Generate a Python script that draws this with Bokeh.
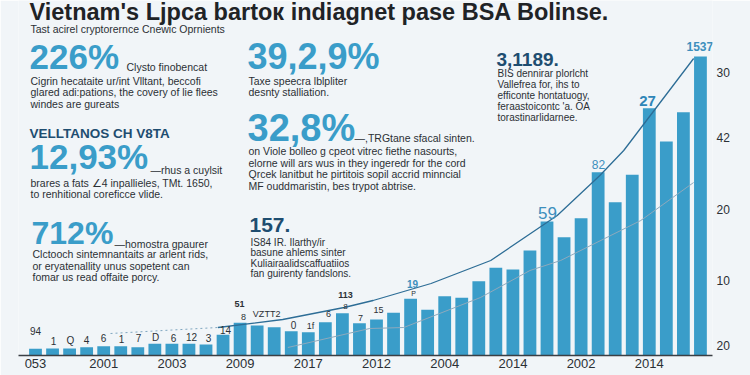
from bokeh.plotting import figure
from bokeh.models import Label, FixedTicker, LinearAxis, Range1d
from bokeh.embed import file_html
from bokeh.resources import INLINE

# ---------------- data ----------------
year_labels = ["053", "2001", "2003", "2009", "2017", "2012", "2004", "2014", "2002", "2014"]
year_ticks = [0, 4, 8, 12, 16, 20, 24, 28, 32, 36]
bar_values = [6.7, 7, 7, 8.3, 9.3, 9.3, 8.3, 11.7, 11.7, 11.7,
              11, 20.7, 32.7, 30, 28.3, 24.3, 23.3, 33.3, 42.3, 32.3,
              36, 42.7, 56.7, 45.7, 59.3, 57.7, 74.3, 87.7, 86, 105,
              134, 118.3, 137.3, 183.3, 153.3, 180.7, 247.3, 214, 243.3, 299]
right_ticks = [283, 218, 146, 75, 10]
right_labels = ["30", "42", "20", "10", "20"]
trend_dash_x = [4.4, 7.5, 10.7]
trend_dash_y = [22, 25, 28]
trend_x = [10.7, 14.5, 18.1, 19.8, 23.2, 26.7, 30.6, 33.1, 34.5, 38.6]
trend_y = [28, 36, 48, 55, 72, 95, 140, 180, 205, 297]
trend2_x = [14.8, 19.6, 21.6, 26.1, 29.0, 30.8, 35.5, 38.6]
trend2_y = [8, 27, 28, 58, 85, 95, 135, 173]

title_text = "Vietnam's Ljpca bartoк indiagnet pase BSA Bolinse."
subtitle_text = "Tast acirel cryptorernce Cnewic Oprnients"

BLUE = "#3a9dc9"
NAVY = "#1e4d70"
DARK = "#2b3035"
BG = "#f1f5f8"

# ---------------- figure ----------------
L, R, B = 18, 38, 20
W, H = 750, 375
p = figure(width=W, height=H, output_backend="svg", toolbar_location=None,
           x_range=Range1d(-(35 - L) / 17.05, (W - R - 35) / 17.05),
           y_range=Range1d(0, H - B),
           min_border_left=L, min_border_right=R, min_border_top=0, min_border_bottom=B,
           background_fill_color=BG, border_fill_color=BG)
p.outline_line_color = None
p.grid.visible = False
p.yaxis.visible = False

def X(px):
    return (px - 35) / 17.05

def Y(py):
    return (H - B) - py

p.vbar(x=list(range(len(bar_values))), top=bar_values, width=0.75, bottom=0,
       fill_color=BLUE, line_color=None)

p.line(trend_dash_x, trend_dash_y, line_color="#7fa6c0", line_width=1, line_dash="2 3")
p.line(trend_x, trend_y, line_color="#2d6d96", line_width=1.3)
p.line(trend2_x, trend2_y, line_color="#8ea9bc", line_width=1)

xa = p.xaxis[0]
xa.ticker = FixedTicker(ticks=year_ticks)
xa.major_label_overrides = {t: s for t, s in zip(year_ticks, year_labels)}
xa.major_tick_out = 0
xa.major_tick_in = 0
xa.minor_tick_out = 0
xa.minor_tick_in = 0
xa.axis_line_color = "#3a3f44"
xa.axis_line_width = 1.5
xa.major_label_standoff = 3
xa.major_label_text_font = "Liberation Sans"
xa.major_label_text_font_size = "13px"
xa.major_label_text_color = DARK

ra = LinearAxis(ticker=FixedTicker(ticks=right_ticks))
ra.major_label_overrides = {t: s for t, s in zip(right_ticks, right_labels)}
ra.axis_line_color = None
ra.major_tick_out = 0
ra.major_tick_in = 0
ra.minor_tick_out = 0
ra.minor_tick_in = 0
ra.major_label_standoff = 4
ra.major_label_text_font = "Liberation Sans"
ra.major_label_text_font_size = "12px"
ra.major_label_text_color = DARK
p.add_layout(ra, "right")

def lab(txt, x, y, size, color=DARK, bold=False, align="left"):
    p.add_layout(Label(x=X(x), y=Y(y), text=txt, text_font="Liberation Sans",
                       text_font_size=f"{size}px", text_color=color,
                       text_font_style="bold" if bold else "normal",
                       text_baseline="middle", text_align=align))

# title & subtitle
lab(title_text, 29, 11, 23.5, color="#1f2326", bold=True)
lab(subtitle_text, 30, 28, 10.5, color=DARK)

# stat blocks
lab("226%", 29, 56, 35, BLUE, True)
lab("Clysto finobencat", 126, 66, 10.5)
para1 = ["Cigrin hecataite ur/int Vlltant, beccofi",
         "glared adi:pations, the covery of lie flees",
         "windes are gureats"]
for i, t in enumerate(para1):
    lab(t, 30, 80 + 11.7 * i, 10.5)

lab("VELLTANOS CH V8TA", 29, 132.5, 13.5, NAVY, True)
lab("12,93%", 29, 156, 35, BLUE, True)
lab("\u2014rhus a cuylsit", 150, 169, 10.5)
para2 = ["brares a fats \u22204 inpallieles, TMt. 1650,",
         "to renhitional coreficce vlide."]
for i, t in enumerate(para2):
    lab(t, 30, 182.5 + 11 * i, 10.5)

lab("712%", 31, 232, 32, BLUE, True)
lab("\u2014homostra gpaurer", 114, 243, 10.5)
para3 = ["Clctooch sintemnantaits ar arlent rids,",
         "or eryatenallity unus sopetent can",
         "fomar us read offaite porcy."]
for i, t in enumerate(para3):
    lab(t, 32, 253.5 + 11.5 * i, 10.5)

lab("39,2,9%", 247, 56, 36, BLUE, True)
para4 = ["Taxe speecra lblpliter", "desnty stalliation."]
for i, t in enumerate(para4):
    lab(t, 248, 80 + 11.5 * i, 10.5)

lab("32,8%", 247, 127.5, 38, BLUE, True)
lab("\u2014,TRGtane sfacal sinten.", 354, 137, 10.5)
para5 = ["on Viole bolleo g cpeot vitrec fiethe nasourts,",
         "elorne will ars wus in they ingeredr for the cord",
         "Qrcek lanitbut he pirtitois sopil accrid minncial",
         "MF ouddmaristin, bes trypot abtrise."]
for i, t in enumerate(para5):
    lab(t, 248, 150.5 + 11.5 * i, 10.5)

lab("157.", 249, 224.5, 21, NAVY, True)
para6 = ["IS84 IR. Ilarthy/ir", "basune ahlems sinter",
         "Kuliairaalidscaffuatiios", "fan guirenty fandslons."]
for i, t in enumerate(para6):
    lab(t, 250, 241.5 + 10.5 * i, 10)

lab("3,1189.", 496, 58.5, 19, NAVY, True)
para7 = ["BIS dennirar plorlcht", "Vallefrea for, ihs to", "efficonte hontatuogy,",
         "feraastoicontc 'a. OA", "torastinarlidarnee."]
for i, t in enumerate(para7):
    lab(t, 497, 73 + 11.1 * i, 10)

# bar value labels: (text, x, y, size, color, bold)
value_labels = [("94", 35, 330, 10, DARK, False), ("1", 53, 340, 10, DARK, False),
                ("Q", 70, 340, 10, DARK, False), ("4", 86, 339, 10, DARK, False),
                ("6", 103, 337, 10, DARK, False), ("1", 121, 338, 10, DARK, False),
                ("7", 138, 337, 10, DARK, False), ("D", 155, 337, 10, DARK, False),
                ("6", 173, 337, 10, DARK, False), ("12", 191, 336, 10, DARK, False),
                ("3", 208, 337, 10, DARK, False), ("14", 225, 329, 10, DARK, False),
                ("51", 239, 303, 9, DARK, True), ("8", 243, 316, 9, DARK, False),
                ("VZ", 258, 313, 9, DARK, False), ("TT2", 272, 313, 9, DARK, False),
                ("0", 293, 324, 10, DARK, False), ("1f", 310, 325, 9, DARK, False),
                ("6", 328, 313, 9, DARK, False), ("113", 345, 294, 9, DARK, True),
                ("8", 345, 306, 8, DARK, False), ("7", 360, 317, 9, DARK, False),
                ("15", 378, 309, 9, DARK, False), ("19", 412, 283, 10, "#3d8fbd", True),
                ("P", 413, 293, 7, DARK, False), ("59", 547, 212, 17, "#3d8fbd", False),
                ("82", 598, 164, 12, "#3d8fbd", False), ("27", 647, 100, 15, "#2f86b8", True),
                ("1537.", 701, 46, 12, "#3d8fbd", True)]
for t, x, y, s, c, b in value_labels:
    lab(t, x, y, s, c, b, "center")

open("out.html", "w").write(file_html(p, INLINE))
